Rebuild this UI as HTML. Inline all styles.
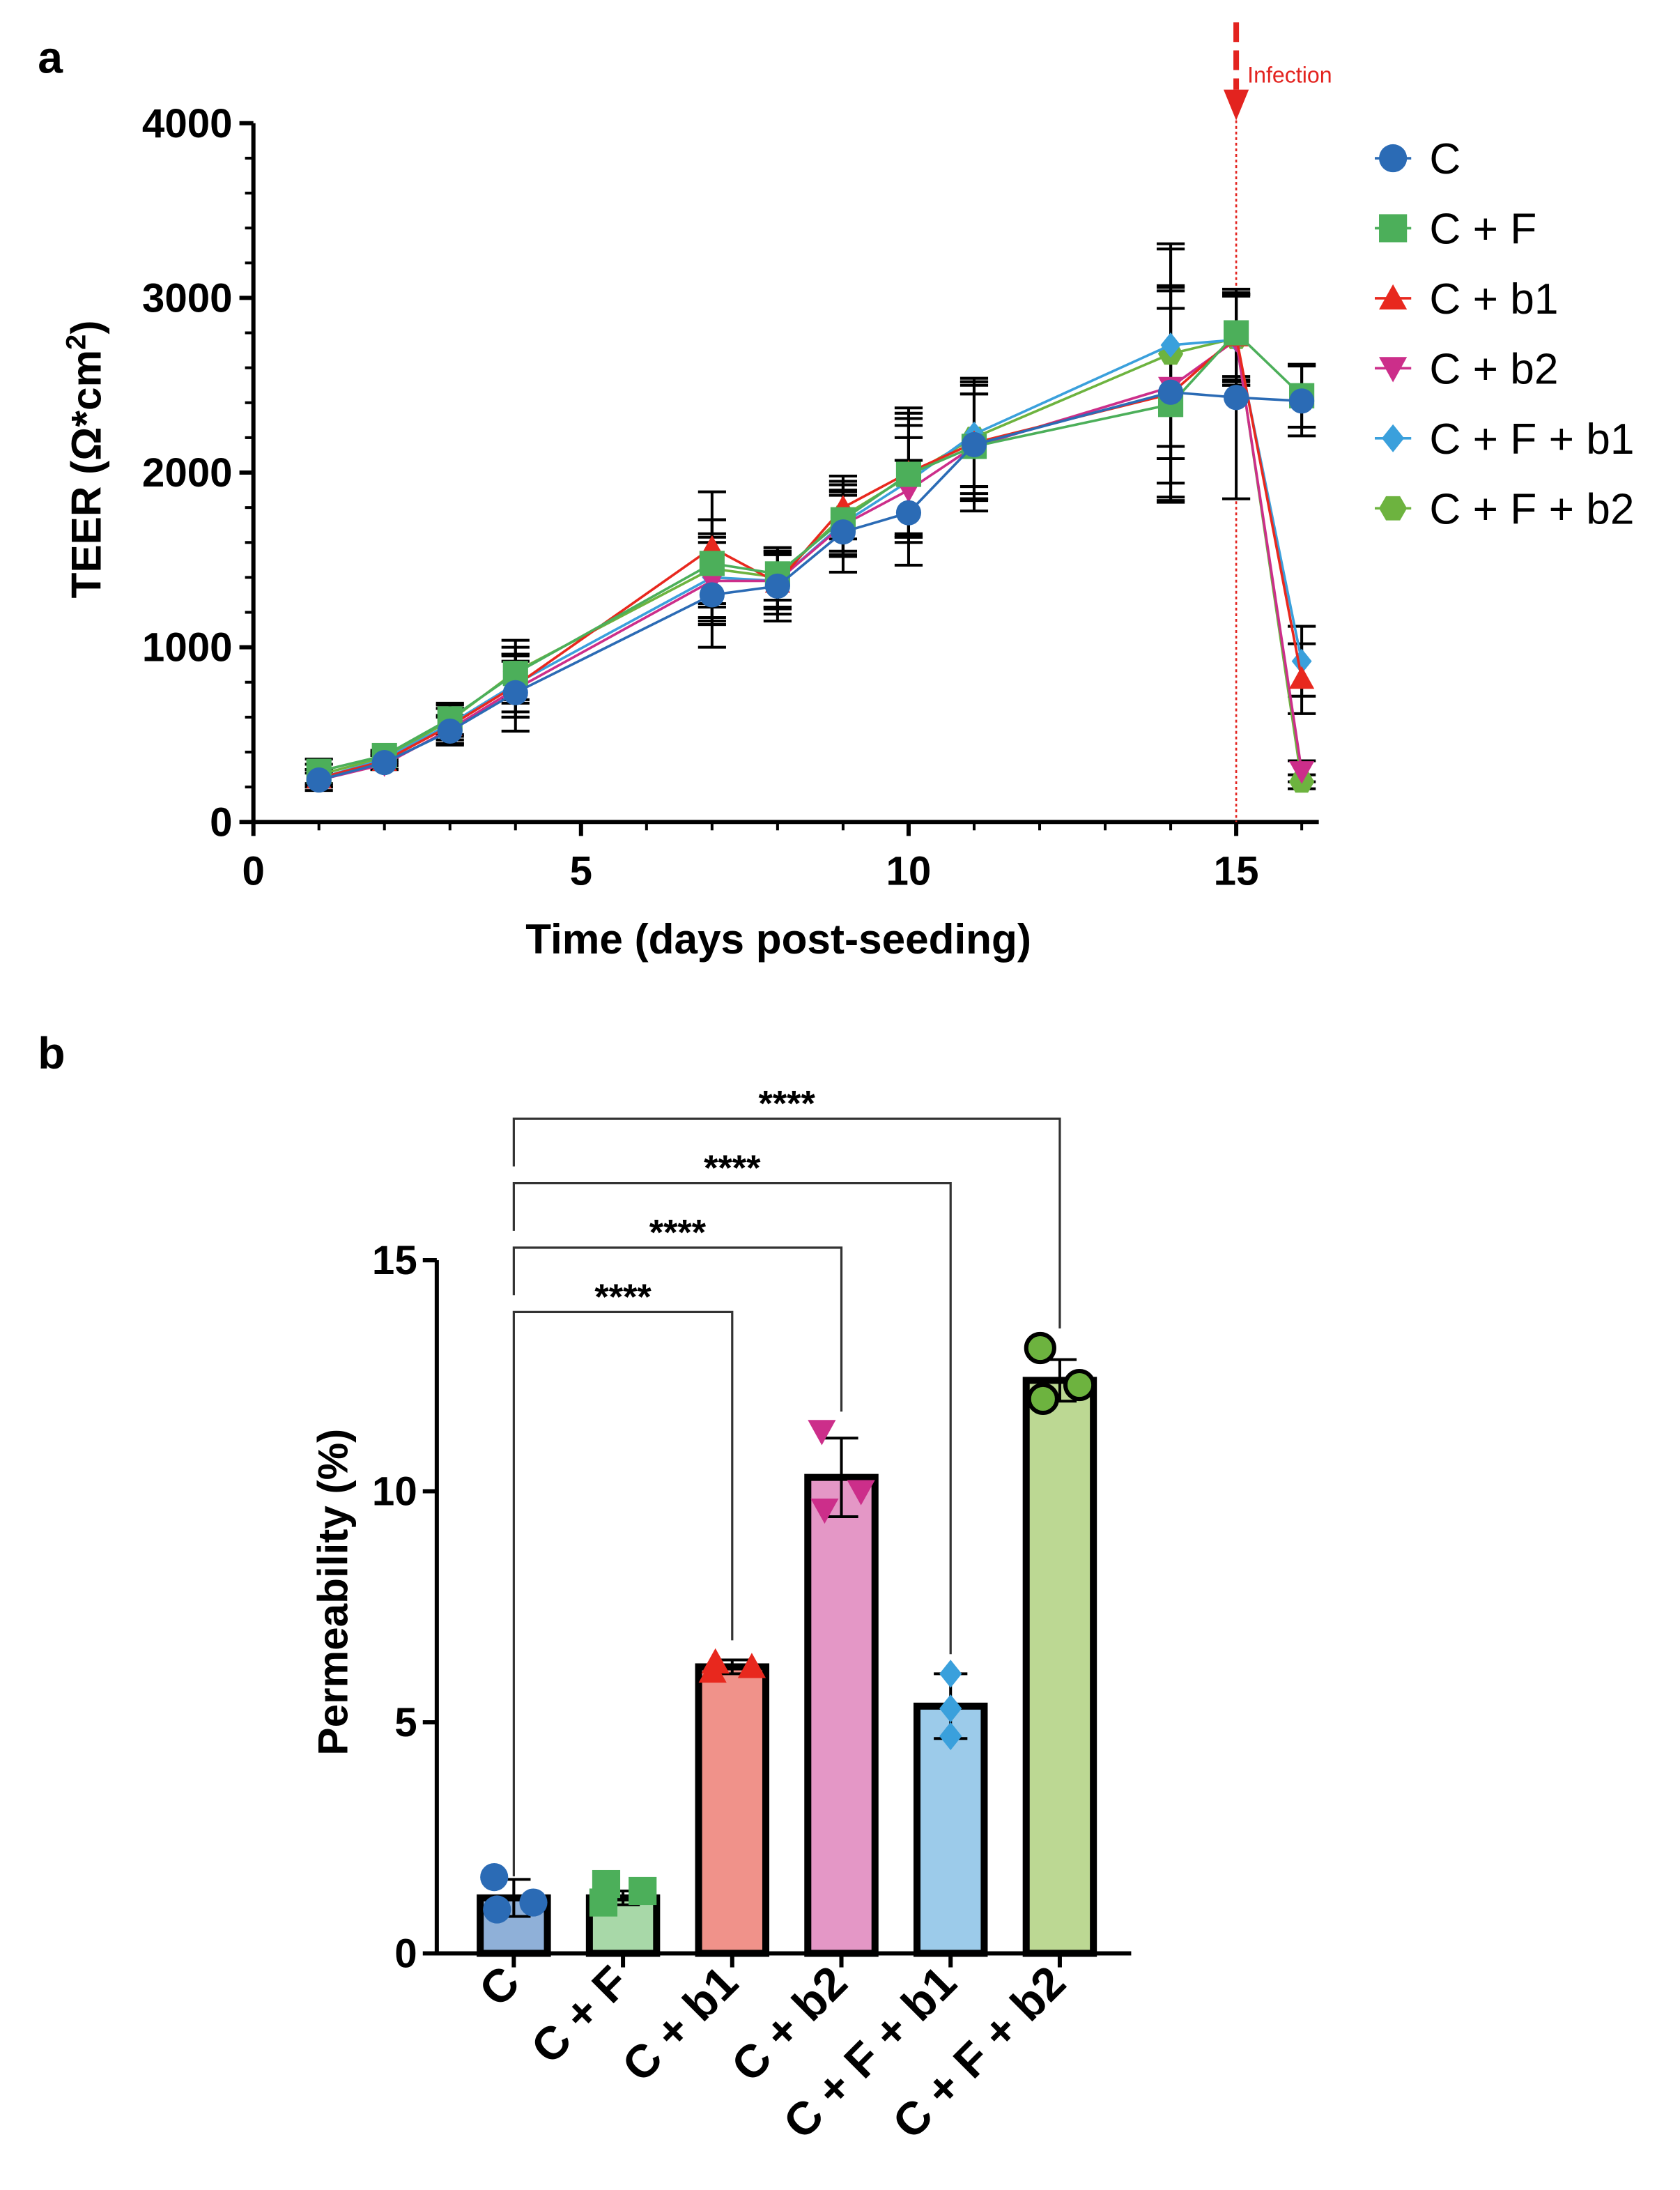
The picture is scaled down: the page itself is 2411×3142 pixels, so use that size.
<!DOCTYPE html>
<html><head><meta charset="utf-8"><style>
html,body{margin:0;padding:0;background:#fff;}
svg{display:block;font-family:"Liberation Sans",Arial,sans-serif;}
</style></head><body>
<svg id="s" width="2411" height="3142" viewBox="0 0 1200 1564" preserveAspectRatio="none" xmlns="http://www.w3.org/2000/svg">
<text x="27" y="52" font-size="32" font-weight="bold">a</text>
<text x="27" y="763" font-size="32" font-weight="bold">b</text>
<g id="ga"></g>
<g id="gb"></g>
</svg>
<script>
const days=[1,2,3,4,7,8,9,10,11,14,15,16];
const seriesNames=["C","C + F","C + b1","C + b2","C + F + b1","C + F + b2"];
const sC   =[240,340,520,740,1300,1350,1660,1770,2160,2460,2430,2410];
const sCF  =[290,380,590,850,1480,1420,1730,1990,2150,2390,2800,2440];
const sCb1 =[250,350,550,780,1570,1370,1800,2000,2170,2450,2780,820];
const sCb2 =[240,330,530,760,1380,1380,1700,1900,2150,2490,2760,290];
const sCFb1=[250,360,560,790,1400,1380,1710,1950,2220,2730,2760,920];
const sCFb2=[270,370,580,860,1450,1400,1750,1980,2200,2680,2770,230];
const eC   =[60,40,80,220,300,200,230,300,380,600,580,200];
const eCF  =[70,30,90,150,250,150,200,350,300,550,250,180];
const eCb1 =[50,30,100,180,320,180,180,370,330,620,250,200];
const eCb2 =[40,30,80,160,250,150,170,300,300,550,260,60];
const eCFb1=[50,30,90,160,250,160,190,320,300,580,260,200];
const eCFb2=[60,30,90,180,280,170,200,330,320,600,250,40];
const xTicksA=[0,5,10,15];
const yTicksA=[0,1000,2000,3000,4000];

const barCats=["C","C + F","C + b1","C + b2","C + F + b1","C + F + b2"];
const barMeans=[1.2,1.2,6.2,10.3,5.35,12.4];
const barSD=[0.4,0.15,0.15,0.85,0.7,0.45];
const pts0=[1.65,0.95,1.1];
const pts1=[1.1,1.5,1.35];
const pts2=[6.1,6.3,6.2];
const pts3=[11.3,9.6,10.0];
const pts4=[6.05,5.3,4.7];
const pts5=[13.1,12.0,12.3];
const yTicksB=[0,5,10,15];
const sigPairs=[[0,2],[0,3],[0,4],[0,5]];
const sigLabels=["****","****","****","****"];

const NS="http://www.w3.org/2000/svg";
function mk(p,t,a,txt){const e=document.createElementNS(NS,t);for(const k in a)e.setAttribute(k,a[k]);if(txt!==undefined)e.textContent=txt;p.appendChild(e);return e;}
const ga=document.getElementById('ga'), gb=document.getElementById('gb');

// ---- Chart A
const xA=d=>181+d*(883-181)/15;
const yA=v=>587-v*(587-88)/4000;
let e;
e=mk(ga,'line',{x1:181,y1:88,x2:181,y2:588,stroke:'#000','stroke-width':3});


e=mk(ga,'line',{x1:180,y1:587,x2:942,y2:587,stroke:'#000','stroke-width':3});


for(let v=0;v<=4000;v+=200){const maj=v%1000===0;mk(ga,'line',{x1:maj?171:175,y1:yA(v),x2:181,y2:yA(v),stroke:'#000','stroke-width':maj?3:2});}
for(let d=0;d<=16;d++){const maj=d%5===0;mk(ga,'line',{x1:xA(d),y1:587,x2:xA(d),y2:maj?597:593,stroke:'#000','stroke-width':maj?3:2});}
yTicksA.forEach(v=>{e=mk(ga,'text',{x:166,y:yA(v)+10,'text-anchor':'end','font-size':29,'font-weight':'bold'},v);

});
xTicksA.forEach(d=>{e=mk(ga,'text',{x:xA(d),y:632,'text-anchor':'middle','font-size':29,'font-weight':'bold'},d);

});
e=mk(ga,'text',{x:556,y:681,'text-anchor':'middle','font-size':30,'font-weight':'bold'},'Time (days post-seeding)');


e=mk(ga,'text',{transform:'translate(72,328) rotate(-90)','text-anchor':'middle','font-size':30,'font-weight':'bold'});
e.innerHTML='TEER (Ω*cm<tspan dy="-11" font-size="20">2</tspan><tspan dy="11">)</tspan>';


e=mk(ga,'line',{x1:883,y1:16,x2:883,y2:64,stroke:'#e3231f','stroke-width':4,'stroke-dasharray':'14,6'});


e=mk(ga,'polygon',{points:'874,64 892,64 883,86',fill:'#e3231f'});


e=mk(ga,'line',{x1:883,y1:86,x2:883,y2:587,stroke:'#e3231f','stroke-width':1.3,'stroke-dasharray':'2,2'});


e=mk(ga,'text',{x:891,y:59,'font-size':16,fill:'#e3231f'},'Infection');



const allS=[sC,sCF,sCb1,sCb2,sCFb1,sCFb2];
const allE=[eC,eCF,eCb1,eCb2,eCFb1,eCFb2];
const cols=['#2b6bb5','#4caf5a','#e8281e','#cc2e8a','#3aa0dc','#6db33f'];
const shapes=['circle','square','tri','tridown','diamond','hex'];
function marker(p,shape,x,y,c,r){
 let m;
 if(shape==='circle')m=mk(p,'circle',{cx:x,cy:y,r:r,fill:c});
 else if(shape==='square')m=mk(p,'rect',{x:x-r,y:y-r,width:2*r,height:2*r,fill:c});
 else if(shape==='tri')m=mk(p,'polygon',{points:`${x},${y-r} ${x+r},${y+r*0.8} ${x-r},${y+r*0.8}`,fill:c});
 else if(shape==='tridown')m=mk(p,'polygon',{points:`${x},${y+r} ${x+r},${y-r*0.8} ${x-r},${y-r*0.8}`,fill:c});
 else if(shape==='diamond')m=mk(p,'polygon',{points:`${x},${y-r} ${x+r*0.8},${y} ${x},${y+r} ${x-r*0.8},${y}`,fill:c});
 else {let pp=[];for(let i=0;i<6;i++){const a=Math.PI/3*i;pp.push((x+r*Math.cos(a))+','+(y+r*Math.sin(a)));}m=mk(p,'polygon',{points:pp.join(' '),fill:c});}
 return m;
}
allS.forEach((s,k)=>{s.forEach((v,i)=>{const x=xA(days[i]),t=yA(v+allE[k][i]),b=yA(Math.max(0,v-allE[k][i]));
 e=mk(ga,'path',{d:`M${x},${t}V${b}M${x-10},${t}H${x+10}M${x-10},${b}H${x+10}`,stroke:'#000','stroke-width':2,fill:'none'});
 
 });});
[5,4,3,2,1,0].forEach(k=>{const s=allS[k];
 e=mk(ga,'polyline',{points:s.map((v,i)=>xA(days[i])+','+yA(v)).join(' '),fill:'none',stroke:cols[k],'stroke-width':1.8});
 
 
 s.forEach((v,i)=>{e=marker(ga,shapes[k],xA(days[i]),yA(v),cols[k],9);
 
 });});
seriesNames.forEach((n,k)=>{const y=113+50*k;
 mk(ga,'line',{x1:982,y1:y,x2:1008,y2:y,stroke:cols[k],'stroke-width':1.8});
 e=marker(ga,shapes[k],995,y,cols[k],10);
 
 
 e=mk(ga,'text',{x:1021,y:y+11,'font-size':31},n);
 
 });

// ---- Chart B
const xB=i=>367+i*78;
const yB=v=>1395-v*(1395-900)/15;
const barFill=['#8fb0d8','#a8d8a8','#f0928a','#e497c6','#9ccbea','#bcd893'];
const ptCol=['#2b6bb5','#4caf5a','#e8281e','#cc2e8a','#3aa0dc','#6db33f'];
const ptShape=['circle','square','tri','tridown','diamond','circle'];
const allPts=[pts0,pts1,pts2,pts3,pts4,pts5];
barMeans.forEach((m,i)=>{
 e=mk(gb,'rect',{x:xB(i)-24,y:yB(m),width:48,height:yB(0)-yB(m),fill:barFill[i],stroke:'#000','stroke-width':5});
 
 });
barMeans.forEach((m,i)=>{const x=xB(i),t=yB(m+barSD[i]),b=yB(m-barSD[i]);
 e=mk(gb,'path',{d:`M${x},${t}V${b}M${x-12},${t}H${x+12}M${x-12},${b}H${x+12}`,stroke:'#000','stroke-width':2,fill:'none'});
 
 
 const offs=[-14,-12,14];
 allPts[i].forEach((v,j)=>{const px=x+(i===4?0:offs[j]);
  if(i===5){e=mk(gb,'circle',{cx:px,cy:yB(v),r:10,fill:ptCol[i],stroke:'#000','stroke-width':3});}
  else e=marker(gb,ptShape[i],px,yB(v),ptCol[i],10);
  
  });});
e=mk(gb,'line',{x1:312,y1:900,x2:312,y2:1396,stroke:'#000','stroke-width':3});


e=mk(gb,'line',{x1:311,y1:1395,x2:808,y2:1395,stroke:'#000','stroke-width':3});


yTicksB.forEach(v=>{mk(gb,'line',{x1:302,y1:yB(v),x2:312,y2:yB(v),stroke:'#000','stroke-width':3});
 e=mk(gb,'text',{x:298,y:yB(v)+10,'text-anchor':'end','font-size':29,'font-weight':'bold'},v);
 
 });
barCats.forEach((c,i)=>{mk(gb,'line',{x1:xB(i),y1:1395,x2:xB(i),y2:1405,stroke:'#000','stroke-width':3});
 e=mk(gb,'text',{transform:`translate(${xB(i)+6},${1418}) rotate(-45)`,'text-anchor':'end','font-size':33,'font-weight':'bold'},c);
 
 });
e=mk(gb,'text',{transform:'translate(248,1137) rotate(-90)','text-anchor':'middle','font-size':30,'font-weight':'bold'},'Permeability (%)');


const brY=[937,891,845,799];
sigPairs.forEach((p,k)=>{const y=brY[k],x1=xB(p[0]),x2=xB(p[1]);
 const lb=k===0?1340:brY[k-1]-12;
 const rb=yB(Math.max(...allPts[p[1]],barMeans[p[1]]+barSD[p[1]]))-14;
 e=mk(gb,'path',{d:`M${x1},${lb}V${y}H${x2}V${rb}`,stroke:'#333','stroke-width':1.6,fill:'none'});
 
 
 e=mk(gb,'text',{x:(x1+x2)/2,y:y-2,'text-anchor':'middle','font-size':26,'font-weight':'bold'},sigLabels[k]);
 
 });
</script>
</body></html>
